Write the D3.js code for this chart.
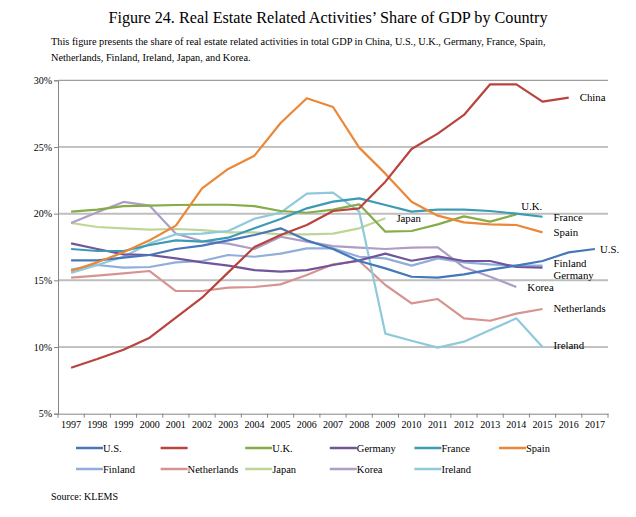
<!DOCTYPE html>
<html><head><meta charset="utf-8">
<script src="https://cdn.jsdelivr.net/npm/d3@7"></script>
<style>
body{margin:0;background:#fff;}
svg{display:block;font-family:"Liberation Serif","Times New Roman",serif;}
</style></head>
<body><svg id="c" width="636" height="517"></svg>
<script>
const years = d3.range(1997, 2018).map(String);
const yTicks = [5, 10, 15, 20, 25, 30];

const us = [16.5,16.5,16.7,16.9,17.35,17.6,18.0,18.4,18.9,18.0,17.35,16.45,15.9,15.27,15.2,15.45,15.8,16.1,16.45,17.1,17.35];
const china = [8.45,9.1,9.8,10.7,12.2,13.7,15.6,17.5,18.4,19.15,20.2,20.4,22.4,24.85,26.0,27.4,29.7,29.7,28.4,28.7,null];
const uk = [20.15,20.3,20.57,20.6,20.65,20.67,20.67,20.57,20.2,20.07,20.3,20.7,18.65,18.7,19.2,19.8,19.4,19.95,null,null,null];
const germany = [17.77,17.35,16.95,16.9,16.65,16.35,16.1,15.77,15.65,15.77,16.15,16.5,17.0,16.47,16.8,16.45,16.45,16.0,15.95,null,null];
const france = [17.35,17.2,17.2,17.65,18.0,17.9,18.2,18.9,19.6,20.4,20.9,21.15,20.65,20.15,20.3,20.3,20.2,20.0,19.77,null,null];
const spain = [15.7,16.35,17.1,18.0,19.1,21.9,23.35,24.35,26.8,28.65,28.0,24.95,23.0,20.9,19.85,19.35,19.2,19.15,18.6,null,null];
const finland = [15.8,16.15,15.95,16.0,16.35,16.45,16.9,16.77,17.0,17.4,17.4,16.77,16.65,16.1,16.65,16.35,16.2,16.1,16.1,null,null];
const netherlands = [15.2,15.35,15.52,15.7,14.2,14.2,14.45,14.5,14.7,15.4,16.2,16.45,14.65,13.27,13.6,12.15,11.97,12.5,12.85,null,null];
const japan = [19.3,19.0,18.9,18.8,18.85,18.77,18.6,18.6,18.45,18.45,18.5,18.9,19.65,null,null,null,null,null,null,null,null];
const korea = [19.3,20.1,20.88,20.6,18.5,17.93,17.75,17.35,18.27,17.9,17.57,17.45,17.35,17.46,17.48,15.98,15.27,14.5,null,null,null];
const ireland = [15.55,16.15,16.77,17.77,18.45,18.5,18.7,19.62,20.08,21.5,21.58,20.15,11.0,10.47,9.95,10.4,11.27,12.15,10.0,null,null];

const seriesNames = ["U.S.","China","U.K.","Germany","France","Spain","Finland","Netherlands","Japan","Korea","Ireland"];
const legendLabels = ["U.S.","","U.K.","Germany","France","Spain","Finland","Netherlands","Japan","Korea","Ireland"];
const seriesValues = [us,china,uk,germany,france,spain,finland,netherlands,japan,korea,ireland];
const colors = ["#4677B8","#B8433F","#85AC47","#71559A","#3C9AB4","#EB8736","#8FAEDA","#D69491","#BFD597","#AE9DC6","#8FCADC"];

const svg = d3.select("#c");
const pL = 58, pR = 608, pT = 80.3, pB = 413.7;
const x = d3.scaleBand().domain(years).range([pL, pR]).padding(0);
const cx = d => x(d) + x.bandwidth() / 2;
const y = d3.scaleLinear().domain([5, 30]).range([pB, pT]);

// Title and subtitle
svg.append("text").attr("x", 328).attr("y", 23).attr("text-anchor", "middle")
  .attr("font-size", 16.2).attr("fill", "#000")
  .text("Figure 24. Real Estate Related Activities\u2019 Share of GDP by Country");
svg.append("text").attr("x", 51).attr("y", 45).attr("font-size", 10.3).attr("fill", "#000")
  .text("This figure presents the share of real estate related activities in total GDP in China, U.S., U.K., Germany, France, Spain,");
svg.append("text").attr("x", 51).attr("y", 61).attr("font-size", 10.3).attr("fill", "#000")
  .text("Netherlands, Finland, Ireland, Japan, and Korea.");

// gridlines
const grid = svg.append("g");
yTicks.filter(t => t > 5).forEach(t => {
  const light = (t === 20 || t === 15);
  grid.append("line").attr("x1", pL).attr("x2", pR)
    .attr("y1", y(t)).attr("y2", y(t))
    .attr("stroke", light ? "#BEBEBE" : "#868686")
    .attr("stroke-width", light ? 2 : 1);
});

// Y axis
const yAxis = svg.append("g").attr("transform", `translate(${pL},0)`)
  .call(d3.axisLeft(y).tickValues(yTicks).tickFormat(d => d + "%").tickSize(4).tickPadding(2));
yAxis.select(".domain").attr("stroke", "#868686");
yAxis.selectAll(".tick line").attr("stroke", "#868686");
yAxis.selectAll("text").attr("font-family", "Liberation Serif, serif").attr("font-size", 10).attr("fill", "#000");

// X axis
const xAxis = svg.append("g").attr("transform", `translate(0,${pB})`)
  .call(d3.axisBottom(x).tickSize(0).tickPadding(7));
xAxis.select(".domain").attr("stroke", "#868686");
xAxis.selectAll("text").attr("font-family", "Liberation Serif, serif").attr("font-size", 10).attr("fill", "#000");
const bounds = years.map(d => x(d)).concat([pR]);
xAxis.selectAll(".btick").data(bounds).enter().append("line")
  .attr("x1", d => d).attr("x2", d => d).attr("y1", 0).attr("y2", 4)
  .attr("stroke", "#868686");

// lines
const line = d3.line().defined(d => d.v !== null).x(d => cx(d.year)).y(d => y(d.v));
const lg = svg.append("g");
const order = [6,7,8,9,10,3,0,2,4,5,1];
order.forEach(i => {
  const pts = years.map((yr, j) => ({year: yr, v: seriesValues[i][j]}));
  lg.append("path").datum(pts).attr("d", line)
    .attr("fill", "none").attr("stroke", colors[i]).attr("stroke-width", 2.2)
    .attr("stroke-linejoin", "round");
});

// end labels (offset from each series' last point)
const labelOffsets = {"China":[11,0],"U.K.":[5,-8.5],"France":[11,0],"Spain":[11,0],"U.S.":[5,0],
  "Finland":[11,-2.3],"Germany":[11,7.3],"Korea":[11,0],"Netherlands":[11,-0.7],"Ireland":[11,-1.5],"Japan":[11,-0.6]};
seriesNames.forEach((name, i) => {
  const vals = seriesValues[i];
  let last = vals.length - 1;
  while (vals[last] === null) last--;
  const off = labelOffsets[name];
  svg.append("text").attr("x", cx(years[last]) + off[0]).attr("y", y(vals[last]) + off[1])
    .attr("dy", "0.35em").attr("font-size", 10.8).attr("fill", "#000").text(name);
});

// legend
const leg = svg.append("g");
legendLabels.forEach((lab, i) => {
  const col = i % 6, row = Math.floor(i / 6);
  const lx = 76 + col * 84.6, ly = 448 + row * 21;
  leg.append("line").attr("x1", lx).attr("x2", lx + 27).attr("y1", ly).attr("y2", ly)
    .attr("stroke", colors[i]).attr("stroke-width", 2.5);
  leg.append("text").attr("x", lx + 27).attr("y", ly).attr("dy", "0.35em")
    .attr("font-size", 10.5).attr("fill", "#000").text(lab);
});

svg.append("text").attr("x", 51).attr("y", 500).attr("font-size", 10).attr("fill", "#000").text("Source: KLEMS");
</script>
</body></html>
